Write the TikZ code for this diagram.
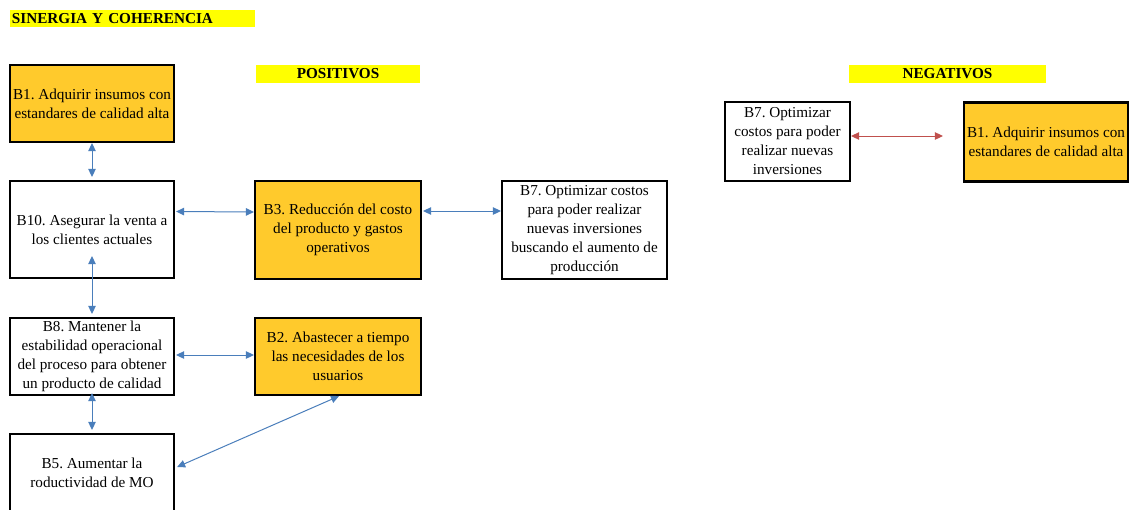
\documentclass[tikz,border=0pt]{standalone}
\usepackage{fontspec}
\setmainfont{Liberation Serif}
\usetikzlibrary{arrows.meta}
\definecolor{boxorange}{HTML}{FFCA2C}
\definecolor{hiyellow}{HTML}{FFFF00}
\definecolor{linkblue}{HTML}{4A7EBB}
\definecolor{linkred}{HTML}{C0504D}
\frenchspacing
\begin{document}
\begin{tikzpicture}[x=1pt,y=-1pt,
  every node/.style={font=\fontsize{15.2}{19}\selectfont},
  card/.style={draw=black,line width=2.2pt,inner sep=0pt,align=center,anchor=center},
  hot/.style={card,fill=boxorange},
  plain/.style={card,fill=white},
  tag/.style={fill=hiyellow,inner sep=0pt,anchor=center,font=\fontsize{15.2}{19}\selectfont\bfseries},
  link/.style={linkblue,line width=1pt,{Triangle[length=8pt,width=7.5pt]}-{Triangle[length=8pt,width=7.5pt]}},
  clash/.style={link,draw=linkred}
]
\useasboundingbox (0,0) rectangle (1133,509);

% headings
\node[tag,minimum width=245pt,minimum height=17pt,text width=241pt,align=left] (title) at (132.5,18.5) {SINERGIA Y COHERENCIA};
\node[tag,minimum width=164pt,minimum height=18pt] (pos) at (338,74) {POSITIVOS};
\node[tag,minimum width=197pt,minimum height=18pt] (neg) at (947.5,74) {NEGATIVOS};

% positive synergies
\node[hot,minimum width=164pt,minimum height=77pt] (b1) at (92,103.5) {B1. Adquirir insumos con\\estandares de calidad alta};
\node[plain,minimum width=164pt,minimum height=97pt] (b10) at (92,229.5) {B10. Asegurar la venta a\\los clientes actuales};
\node[hot,minimum width=166pt,minimum height=98pt] (b3) at (338,230) {B3. Reducción del costo\\del producto y gastos\\operativos};
\node[plain,minimum width=165pt,minimum height=98pt] (b7) at (584.5,230) {B7. Optimizar costos\\para poder realizar\\nuevas inversiones\\buscando el aumento de\\producción};
\node[plain,minimum width=164pt,minimum height=77pt] (b8) at (92,356.5) {B8. Mantener la\\estabilidad operacional\\del proceso para obtener\\un producto de calidad};
\node[hot,minimum width=166pt,minimum height=77pt] (b2) at (338,356.5) {B2. Abastecer a tiempo\\las necesidades de los\\usuarios};
\node[plain,minimum width=164pt,minimum height=77pt] (b5) at (92,472.5) {B5. Aumentar la\\roductividad de MO};

% negative relation
\node[plain,minimum width=125pt,minimum height=79pt] (nb7) at (787.5,141.5) {B7. Optimizar\\costos para poder\\realizar nuevas\\inversiones};
\node[hot,minimum width=164pt,minimum height=79pt] (nb1) at (1046,142) {B1. Adquirir insumos con\\estandares de calidad alta};

% connectors (yshift is measured upwards)
\draw[link] (b1.south) -- ([yshift=3pt]b10.north);
\draw[link] ([yshift=18pt,xshift=1pt]b10.east) -- ([yshift=18pt]b3.west);
\draw[link] ([yshift=19pt,xshift=1pt]b3.east) -- ([yshift=19pt]b7.west);
\draw[link] ([yshift=23pt]b10.south) -- ([yshift=3pt]b8.north);
\draw[link] ([yshift=1.5pt,xshift=1pt]b8.east) -- ([yshift=1.5pt]b2.west);
\draw[link] ([yshift=3pt]b8.south) -- ([yshift=3pt]b5.north);
\draw[link] ([yshift=5.5pt,xshift=2pt]b5.east) -- ([xshift=1pt]b2.south);
\draw[clash] ([yshift=5.5pt]nb7.east) -- ([xshift=-20pt,yshift=6pt]nb1.west);
\end{tikzpicture}
\end{document}
